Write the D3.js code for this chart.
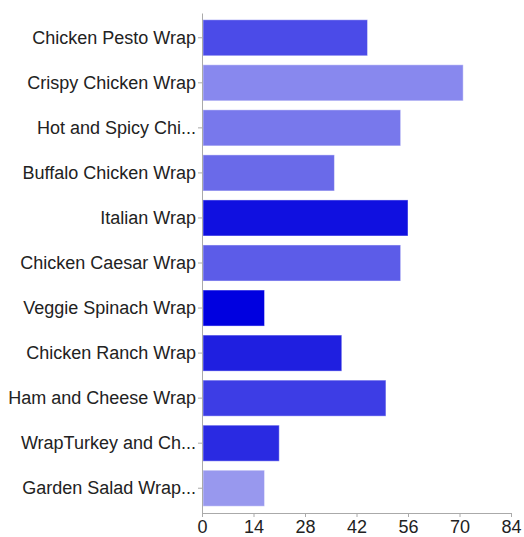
<!DOCTYPE html>
<html>
<head>
<meta charset="utf-8">
<script src="https://cdn.jsdelivr.net/npm/d3@7"></script>
<style>
  body { margin: 0; background: #fff; }
  svg text { font-family: "Liberation Sans", Arial, sans-serif; }
</style>
</head>
<body>
<div id="chart"></div>
<script>
// data
const categories = [
    "Chicken Pesto Wrap",
    "Crispy Chicken Wrap",
    "Hot and Spicy Chi...",
    "Buffalo Chicken Wrap",
    "Italian Wrap",
    "Chicken Caesar Wrap",
    "Veggie Spinach Wrap",
    "Chicken Ranch Wrap",
    "Ham and Cheese Wrap",
    "WrapTurkey and Ch...",
    "Garden Salad Wrap..."
];
const values = [45, 71, 54, 36, 56, 54, 17, 38, 50, 21, 17];
const barColors = [
    "#4b4be8", "#8888ee", "#7878ec", "#6a6ae9", "#1010e0", "#5c5ce8",
    "#0000e0", "#1f1fe0", "#3d3de5", "#2a2ae2", "#9898ee"
];
const xTicks = [0, 14, 28, 42, 56, 70, 84];

function drawChart() {
    const width = 524;
    const height = 537;
    const margin = { top: 13, right: 13, bottom: 24, left: 202 };

    const svg = d3.select("#chart")
        .append("svg")
        .attr("width", width)
        .attr("height", height);

    const x = d3.scaleLinear()
        .domain([0, 84])
        .range([margin.left, width - margin.right]);

    const y = d3.scaleBand()
        .domain(categories)
        .range([margin.top, height - margin.bottom])
        .paddingInner(0.2)
        .paddingOuter(0.15);

    const rows = categories.map((c, i) => ({ name: c, value: values[i], color: barColors[i] }));

    // bars
    svg.append("g")
        .selectAll("rect")
        .data(rows)
        .enter()
        .append("rect")
        .attr("x", x(0) + 1)
        .attr("y", d => y(d.name))
        .attr("width", d => x(d.value) - x(0) - 1)
        .attr("height", y.bandwidth())
        .attr("fill", d => d.color)
        .attr("stroke", "#fff")
        .attr("stroke-opacity", 0.45)
        .attr("stroke-width", 1);

    // left axis
    const yAxis = svg.append("g")
        .attr("transform", `translate(${margin.left},0)`)
        .call(d3.axisLeft(y).tickSize(4).tickSizeOuter(0).tickPadding(2));

    // bottom axis
    const xAxis = svg.append("g")
        .attr("transform", `translate(0,${height - margin.bottom})`)
        .call(d3.axisBottom(x).tickValues(xTicks).tickSize(4).tickSizeOuter(0).tickPadding(3));

    [yAxis, xAxis].forEach(a => {
        a.select(".domain").attr("stroke", "#aaa");
        a.selectAll(".tick line").attr("stroke", "#aaa");
        a.selectAll(".tick text")
            .attr("fill", "#222")
            .style("font-size", "18px")
            .style("font-family", '"Liberation Sans", Arial, sans-serif');
    });
}

drawChart();
</script>
</body>
</html>
